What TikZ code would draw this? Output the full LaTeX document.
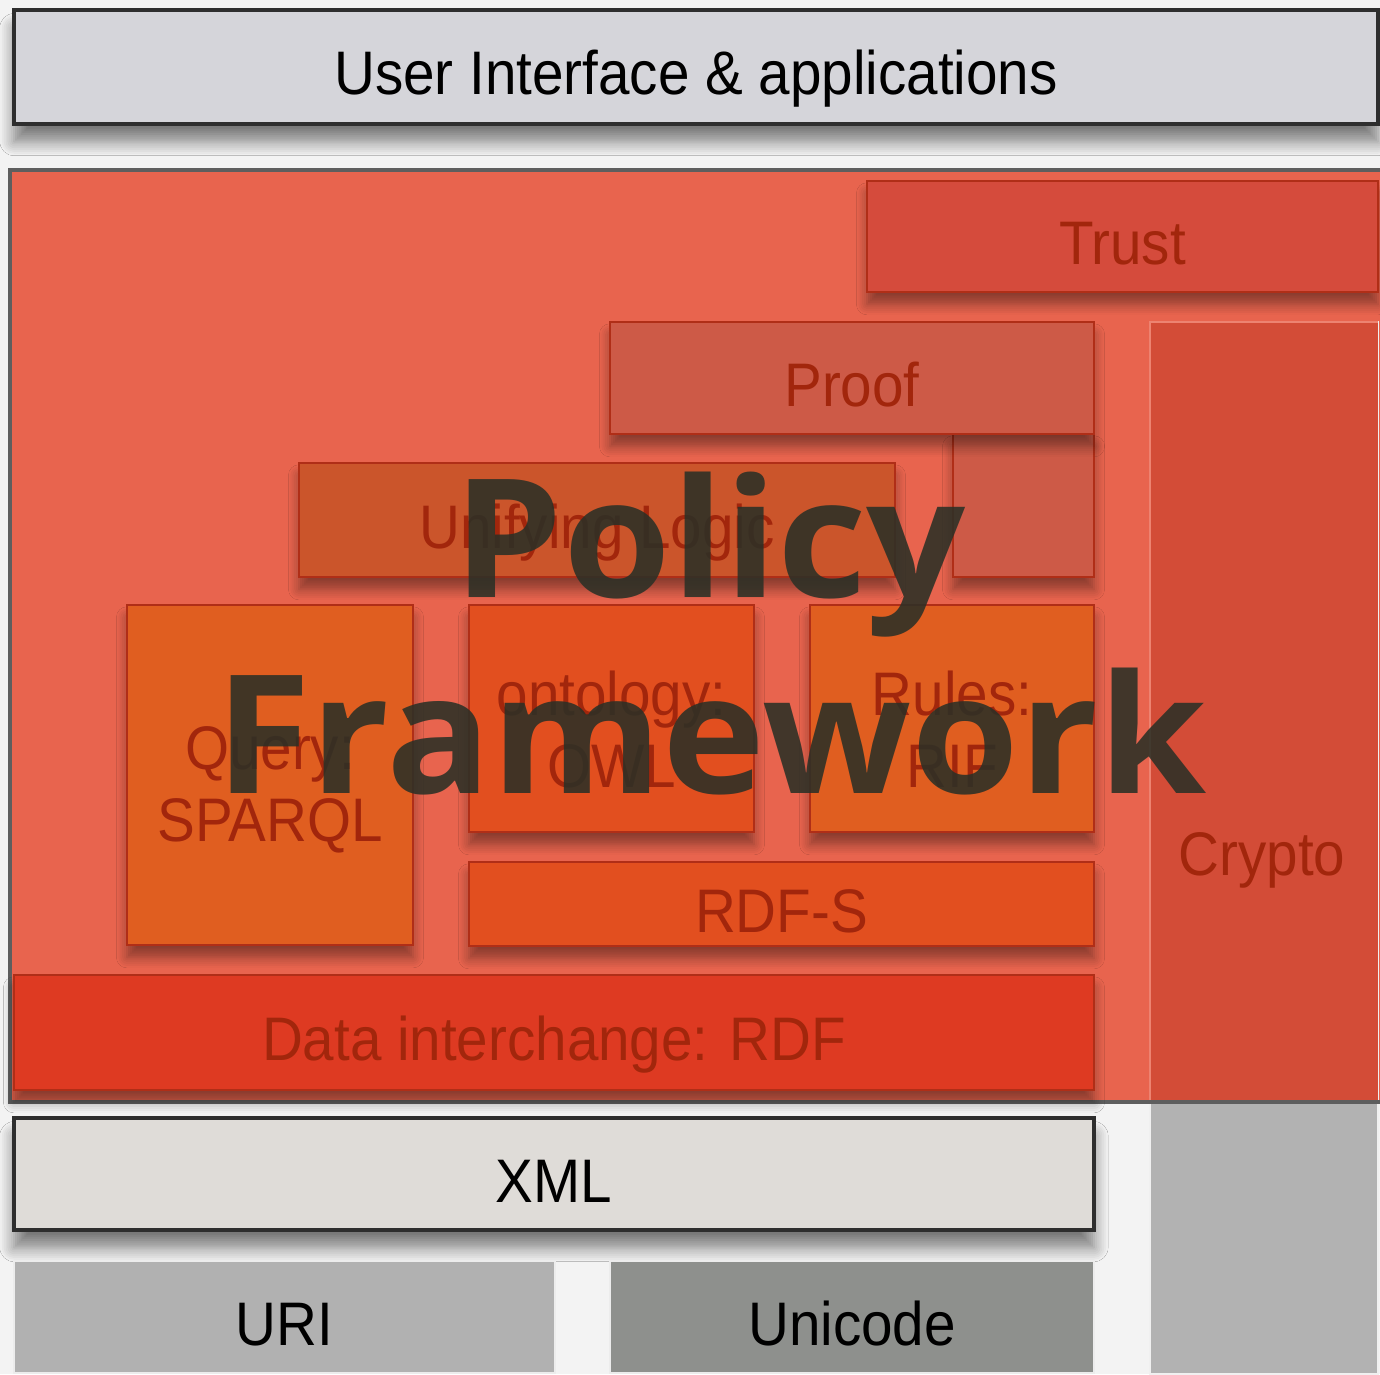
\documentclass[tikz,border=0pt]{standalone}
\usepackage{fontspec}
\setmainfont{Liberation Sans}[FakeStretch=0.92]
\newfontfamily\policyfont{Open Sans}[FakeStretch=1.055]
\usetikzlibrary{shadows, shadows.blur, calc}
\definecolor{pgback}{HTML}{F3F3F3}
\definecolor{uifill}{HTML}{D5D5DA}
\definecolor{xmlfill}{HTML}{DFDCD8}
\definecolor{darkline}{HTML}{2E2E2E}
\definecolor{frameline}{HTML}{5E5E5E}
\definecolor{polred}{HTML}{E8644E}
\definecolor{redline}{HTML}{B02E17}
\definecolor{redtext}{HTML}{A2260C}
\definecolor{trustfill}{HTML}{D54B3C}
\definecolor{prooffill}{HTML}{CD5A47}
\definecolor{logicfill}{HTML}{CB552B}
\definecolor{queryfill}{HTML}{E05E20}
\definecolor{owlfill}{HTML}{E24F1F}
\definecolor{rdffill}{HTML}{DE3A22}
\definecolor{cryptored}{HTML}{D34C37}
\definecolor{cryptogray}{HTML}{B2B2B2}
\definecolor{urifill}{HTML}{B1B1B1}
\definecolor{unifill}{HTML}{8E908D}
\definecolor{policyink}{HTML}{2B3026}

\begin{document}
\begin{tikzpicture}[
  every node/.style={font=\fontsize{17.5}{20.5}\selectfont, inner sep=0pt, outer sep=0pt},
  layer/.style={rectangle, align=center, line width=0.8pt, text height=0.64cm, text depth=0.08cm},
  twoline/.style={text height=, text depth=},
  greybox/.style={layer, draw=darkline, line width=1.2pt, text=black,
    blur shadow={shadow blur steps=8, shadow blur radius=4pt, shadow xshift=0pt, shadow yshift=-5pt, shadow opacity=50}},
  basebox/.style={layer, draw=white!85!gray, text=black},
  redbox/.style={layer, draw=redline, text=redtext,
    blur shadow={shadow blur steps=6, shadow blur radius=3pt, shadow xshift=0pt, shadow yshift=-3.5pt, shadow opacity=40}},
  bigword/.style={font=\policyfont\bfseries\fontsize{47}{56}\selectfont, text=policyink, text opacity=0.88},
]
\useasboundingbox (0,0) rectangle (13.80,-13.74);
\fill[pgback] (0,0) rectangle (13.80,-13.74);

% Top layer
\node[greybox, fill=uifill, minimum width=13.64cm, minimum height=1.14cm] (ui) at (6.96,-0.67) {User Interface \& applications};

% Policy frame corners
\coordinate (fne) at (13.80,-1.70);
\coordinate (fsw) at (0.10,-11.02);
\fill[polred] (fsw) rectangle (fne);

% Crypto column, grey below the frame
\node[layer, fill=cryptogray, draw=white!88!gray, minimum width=2.28cm, minimum height=10.52cm] (crypto) at (12.64,-8.48) {};
\fill[cryptored] (crypto.north west) rectangle (crypto.east |- fsw);
\draw[polred!80!white, line width=0.6pt] (crypto.west |- fsw) -- (crypto.north west) -- (crypto.north east);
\node (cryptolbl) [text=redtext, anchor=base] at (12.62,-8.75) {Crypto};

\draw[frameline, line width=1.4pt] (fne) -- (fne -| fsw) -- (fsw) -- (fsw -| fne);

% Upper layers
\node[redbox, fill=trustfill, minimum width=5.11cm, minimum height=1.11cm] (trust) at (11.225,-2.365) {Trust};
\node[redbox, fill=prooffill, minimum width=1.41cm, minimum height=1.43cm] (proofext) at (10.235,-5.055) {};
\node[redbox, fill=prooffill, minimum width=4.84cm, minimum height=1.12cm] (proof) at (8.52,-3.78) {Proof};
\node[redbox, fill=logicfill, minimum width=5.96cm, minimum height=1.14cm] (logic) at (5.97,-5.20) {Unifying Logic};

% Middle layers
\node[redbox, twoline, fill=queryfill, minimum width=2.86cm, minimum height=3.40cm] (query) at (2.70,-7.75) {\rule{0pt}{0.72cm}Query:\\SPARQL};
\node[redbox, twoline, fill=owlfill, minimum width=2.85cm, minimum height=2.27cm] (owl) at (6.115,-7.185) {\rule{0pt}{0.66cm}ontology:\\OWL};
\node[redbox, twoline, fill=queryfill, minimum width=2.84cm, minimum height=2.27cm] (rif) at (9.52,-7.185) {\rule{0pt}{0.66cm}Rules:\\RIF};
\node[redbox, fill=owlfill, minimum width=6.25cm, minimum height=0.84cm] (rdfs) at (7.815,-9.04) {RDF-S};
\node[redbox, fill=rdffill, minimum width=10.80cm, minimum height=1.15cm] (rdf) at (5.54,-10.325) {Data interchange: RDF};

% Base layers
\node[greybox, fill=xmlfill, minimum width=10.80cm, minimum height=1.12cm] (xml) at (5.54,-11.74) {XML};
\node[basebox, fill=urifill, minimum width=5.41cm, minimum height=1.12cm] (uri) at (2.845,-13.17) {URI};
\node[basebox, fill=unifill, minimum width=4.84cm, minimum height=1.12cm] (unicode) at (8.52,-13.17) {Unicode};

% Overlay title
\node[bigword, anchor=base] (policy) at (7.10,-5.97) {Policy};
\node[bigword, anchor=base] (framework) at (7.11,-7.93) {Framework};

\end{tikzpicture}
\end{document}
